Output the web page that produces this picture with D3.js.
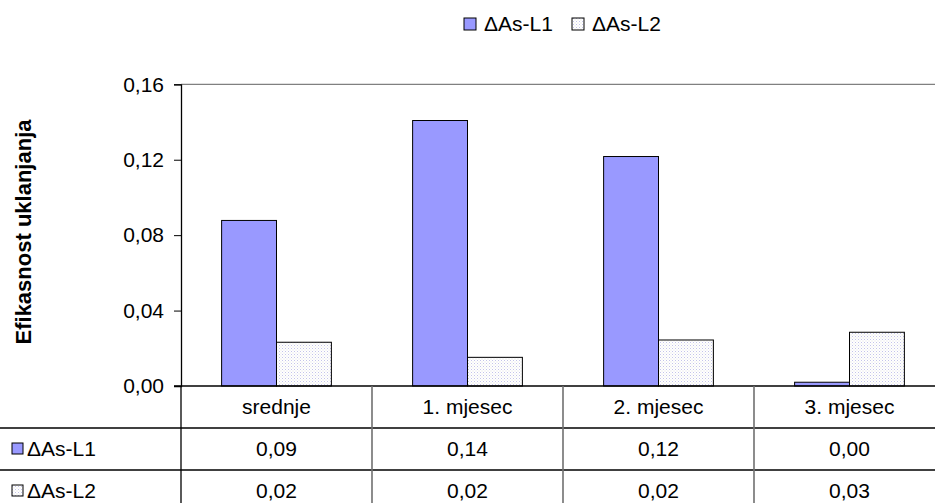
<!DOCTYPE html>
<html><head><meta charset="utf-8">
<script src="https://cdn.jsdelivr.net/npm/d3@7"></script>
<style>body{margin:0;background:#fff}svg{display:block;font-family:"Liberation Sans",Arial,sans-serif}</style>
</head><body><svg id="c" width="935" height="503"></svg>
<script>
const categories = ["srednje", "1. mjesec", "2. mjesec", "3. mjesec"];
const seriesNames = ["\u0394As-L1", "\u0394As-L2"];
const valuesL1 = [0.0878, 0.1408, 0.1217, 0.0020];
const valuesL2 = [0.0232, 0.0152, 0.0244, 0.0285];
const yTicks = [0, 0.04, 0.08, 0.12, 0.16];
const yTitle = "Efikasnost uklanjanja";

const svg = d3.select("#c");
const fs = 21;
const loc = d3.formatLocale({decimal: ",", thousands: ".", grouping: [3], currency: ["", ""]});
const fmt = loc.format(".2f");

const x = d3.scaleBand().domain(categories).range([181, 945]).paddingInner(0).paddingOuter(0);
const xs = d3.scaleBand().domain(seriesNames).range([0, x.bandwidth()]).paddingInner(0).paddingOuter(0.74);
const y = d3.scaleLinear().domain([0, 0.16]).range([386, 84.3]);

// pattern for L2
const defs = svg.append("defs");
const pat = defs.append("pattern").attr("id", "dots").attr("width", 3).attr("height", 3).attr("patternUnits", "userSpaceOnUse");
pat.append("rect").attr("width", 3).attr("height", 3).attr("fill", "#fff");
pat.append("rect").attr("x", 0).attr("y", 0).attr("width", 1).attr("height", 1).attr("fill", "#c4c4e8");
pat.append("rect").attr("x", 1.5).attr("y", 1.5).attr("width", 1).attr("height", 1).attr("fill", "#e0e0e0");
const fills = ["#9999FF", "url(#dots)"];
const series = [valuesL1, valuesL2];

// plot top border
svg.append("line").attr("x1", 181).attr("x2", 945).attr("y1", y(0.16)).attr("y2", y(0.16)).attr("stroke", "#808080").attr("stroke-width", 1.3);

// bars
series.forEach((vals, si) => {
  svg.append("g").selectAll("rect").data(vals).join("rect")
    .attr("x", (d, i) => x(categories[i]) + xs(seriesNames[si]))
    .attr("width", xs.bandwidth())
    .attr("y", d => y(d))
    .attr("height", d => y(0) - y(d))
    .attr("fill", fills[si])
    .attr("stroke", "#000").attr("stroke-width", 1);
});

// y axis
const yAxis = d3.axisLeft(y).tickValues(yTicks).tickSize(7).tickPadding(10).tickFormat(fmt);
const gy = svg.append("g").attr("transform", "translate(181,0)").call(yAxis);
gy.select(".domain").attr("stroke", "#000").attr("stroke-width", 1.3);
gy.selectAll(".tick line").attr("stroke", "#000");
gy.selectAll("text").attr("font-size", fs).attr("font-family", "'Liberation Sans',Arial,sans-serif").attr("fill", "#000");

// y title
svg.append("text").attr("transform", "translate(31,232) rotate(-90)").attr("text-anchor", "middle")
  .attr("font-size", 22).attr("font-weight", "bold").text(yTitle);

// data table
const rowY = [386, 428, 470, 512];
svg.append("line").attr("x1", 174).attr("x2", 935).attr("y1", rowY[0]).attr("y2", rowY[0]).attr("stroke", "#000").attr("stroke-width", 1.3);
[1, 2].forEach(r => svg.append("line").attr("x1", 0).attr("x2", 935).attr("y1", rowY[r]).attr("y2", rowY[r]).attr("stroke", "#000").attr("stroke-width", 1.3));
svg.append("line").attr("x1", 181).attr("x2", 181).attr("y1", 386).attr("y2", 503).attr("stroke", "#000").attr("stroke-width", 1.3);
categories.slice(1).forEach(c => svg.append("line").attr("x1", x(c)).attr("x2", x(c)).attr("y1", 386).attr("y2", 503).attr("stroke", "#707070").attr("stroke-width", 1.6));

svg.append("g").selectAll("text").data(categories).join("text")
  .attr("x", d => x(d) + x.bandwidth() / 2).attr("y", (rowY[0] + rowY[1]) / 2 + 7)
  .attr("text-anchor", "middle").attr("font-size", fs).text(d => d);
series.forEach((vals, si) => {
  svg.append("g").selectAll("text").data(vals).join("text")
    .attr("x", (d, i) => x(categories[i]) + x.bandwidth() / 2).attr("y", (rowY[si + 1] + rowY[si + 2]) / 2 + 7)
    .attr("text-anchor", "middle").attr("font-size", fs).text(d => fmt(d));
  svg.append("rect").attr("x", 12).attr("y", (rowY[si + 1] + rowY[si + 2]) / 2 - 6).attr("width", 11).attr("height", 11)
    .attr("fill", fills[si]).attr("stroke", "#000").attr("stroke-width", 1);
  svg.append("text").attr("x", 27).attr("y", (rowY[si + 1] + rowY[si + 2]) / 2 + 7).attr("font-size", fs).text(seriesNames[si]);
});

// legend
const legX = [464, 572];
seriesNames.forEach((n, i) => {
  svg.append("rect").attr("x", legX[i]).attr("y", 18).attr("width", 12).attr("height", 12)
    .attr("fill", fills[i]).attr("stroke", "#000").attr("stroke-width", 1);
  svg.append("text").attr("x", legX[i] + 20).attr("y", 31).attr("font-size", fs).text(n);
});
</script></body></html>
